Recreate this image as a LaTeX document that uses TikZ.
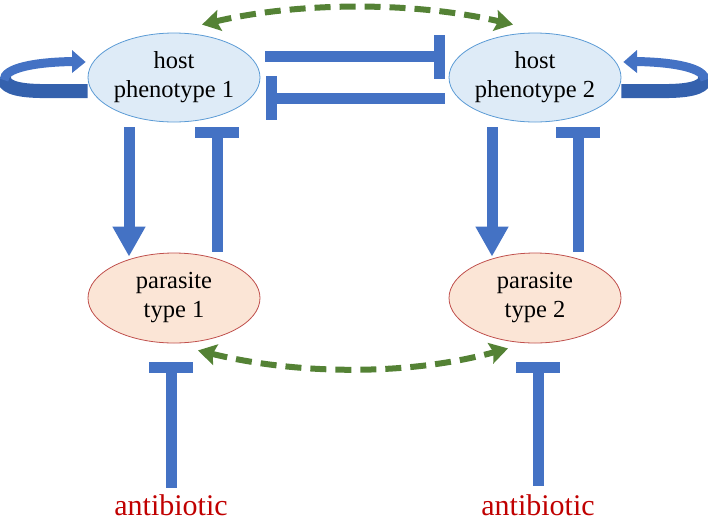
\documentclass[tikz,border=0pt]{standalone}
\usepackage{fontspec}
\setmainfont{Liberation Serif}
\usetikzlibrary{arrows.meta,shapes.geometric,calc}
\definecolor{bblue}{HTML}{4472C4}
\definecolor{dblue}{HTML}{3461AD}
\definecolor{hfill}{HTML}{DEEBF7}
\definecolor{hdraw}{HTML}{5B9BD5}
\definecolor{pfill}{HTML}{FBE5D6}
\definecolor{pdraw}{HTML}{C0504D}
\definecolor{ggreen}{HTML}{548235}
\definecolor{abred}{HTML}{C00000}
\tikzset{
  hostnode/.style={ellipse,draw=hdraw,line width=0.8pt,fill=hfill,minimum width=172pt,minimum height=89pt,inner sep=0pt,align=center,font=\fontsize{24.5}{29}\selectfont},
  parnode/.style={ellipse,draw=pdraw,line width=0.8pt,fill=pfill,minimum width=172pt,minimum height=90pt,inner sep=0pt,align=center,font=\fontsize{24.5}{29}\selectfont},
  abnode/.style={anchor=base,text=abred,font=\fontsize{30}{34}\selectfont,inner sep=2pt},
  act/.style={draw=bblue,line width=11pt,-{Triangle[length=30pt,width=31pt]}},
  inhib/.style={draw=bblue,line width=11pt,-{Rectangle[length=11pt,width=44pt]}},
  interact/.style={draw=ggreen,line width=6pt,dash pattern=on 16pt off 9pt,{Stealth[length=18pt,width=21pt,inset=3pt]}-{Stealth[length=18pt,width=21pt,inset=3pt]}},
}
\begin{document}
\begin{tikzpicture}[x=1pt,y=-1pt]
\useasboundingbox (0,0) rectangle (708,523);
\node[hostnode] (h1) at (174,77.5) {host\\phenotype 1};
\node[hostnode] (h2) at (535,77.5) {host\\phenotype 2};
\node[parnode] (p1) at (174,298) {parasite\\type 1};
\node[parnode] (p2) at (535,298) {parasite\\type 2};
\node[abnode] (a1) at (171,515) {antibiotic};
\node[abnode] (a2) at (538,515) {antibiotic};

% host-host inhibition
\draw[inhib] ([xshift=5pt,yshift=21pt]h1.east) -- ([xshift=-4pt,yshift=21pt]h2.west);
\draw[inhib] ([xshift=-4pt,yshift=-20.5pt]h2.west) -- ([xshift=6pt,yshift=-20.5pt]h1.east);

% host -> parasite, parasite -| host
\draw[act] ([xshift=-45pt,yshift=-5pt]h1.south) -- ([xshift=-45pt,yshift=-4pt]p1.north);
\draw[inhib] ([xshift=43pt,yshift=1pt]p1.north) -- ([xshift=43pt,yshift=-5pt]h1.south);
\draw[act] ([xshift=-43pt,yshift=-5pt]h2.south) -- ([xshift=-43pt,yshift=-4pt]p2.north);
\draw[inhib] ([xshift=43pt,yshift=1pt]p2.north) -- ([xshift=43pt,yshift=-5pt]h2.south);

% antibiotic
\draw[inhib] ([yshift=4pt]a1.north) -- ([xshift=-3pt,yshift=-19pt]p1.south);
\draw[inhib] ([yshift=6pt]a2.north) -- ([xshift=3pt,yshift=-19pt]p2.south);

% green interactions
\draw[interact] ([xshift=28pt,yshift=8pt]h1.north) .. controls +(98pt,23pt) and +(-98pt,23pt) .. ([xshift=-22pt,yshift=8pt]h2.north);
\draw[interact] ([xshift=24pt,yshift=-7pt]p1.south) .. controls +(102pt,-25pt) and +(-98pt,-27pt) .. ([xshift=-27pt,yshift=-5pt]p2.south);

% self loops
\draw[dblue,line width=14pt] ([yshift=-13.5pt]h1.west) -- (40,91) .. controls (12,90.5) and (4,85) .. (4,78);
\draw[bblue,line width=9pt] (4,80) .. controls (4,68) and (35,62) .. (74,61.5);
\fill[bblue] (72,50) -- ([yshift=15.5pt,xshift=-2pt]h1.west) -- (72,73) -- cycle;
\draw[dblue,line width=14pt] ([yshift=-13.5pt]h2.east) -- (669,91) .. controls (697,90.5) and (705,85) .. (705,78);
\draw[bblue,line width=9pt] (705,80) .. controls (705,68) and (674,62) .. (635,61.5);
\fill[bblue] (637,50) -- ([yshift=15.5pt,xshift=2pt]h2.east) -- (637,73) -- cycle;
\end{tikzpicture}
\end{document}
